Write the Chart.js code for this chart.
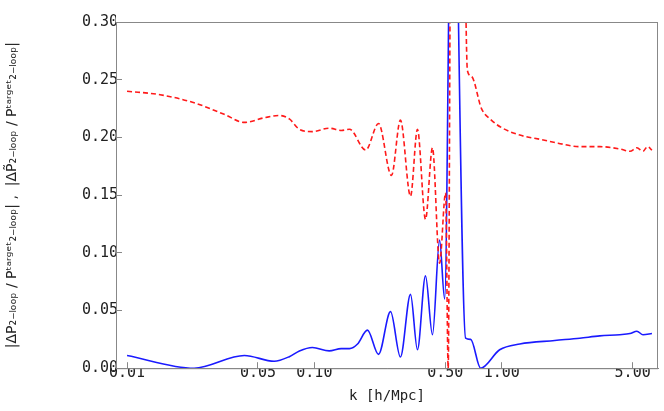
<!DOCTYPE html>
<html lang="en">
<head>
<meta charset="UTF-8">
<title>P2-loop residuals</title>
<script src="https://cdn.jsdelivr.net/npm/chart.js"></script>
<style>
  body { margin: 0; background: #fff; }
  #wrap { width: 664px; height: 411px; }
</style>
</head>
<body>
<div id="wrap"><canvas id="chartCanvas"></canvas></div>
<script>
// blue solid: |dP / P target|
const blueK = [0.01, 0.0228, 0.0423, 0.061, 0.0735, 0.0832, 0.0976, 0.120, 0.139, 0.154, 0.170, 0.192, 0.220, 0.255, 0.288, 0.326, 0.355, 0.392, 0.427, 0.466, 0.496, 0.533, 0.553, 0.575, 0.642, 0.683, 0.772, 0.975, 1.25, 1.92, 2.61, 3.34, 4.27, 4.84, 5.27, 5.68, 6.34];
const blueVal = [0.011, 0.0, 0.011, 0.006, 0.010, 0.015, 0.018, 0.015, 0.017, 0.017, 0.021, 0.033, 0.012, 0.049, 0.0097, 0.064, 0.016, 0.080, 0.029, 0.111, 0.060, 0.45, 0.60, 0.40, 0.026, 0.025, 0.0, 0.016, 0.021, 0.024, 0.026, 0.028, 0.029, 0.030, 0.032, 0.029, 0.030];
// red dashed: |dP~ / P target|
const redK = [0.01, 0.015, 0.0228, 0.0330, 0.0423, 0.0540, 0.0650, 0.0735, 0.0832, 0.0976, 0.120, 0.139, 0.154, 0.188, 0.220, 0.258, 0.288, 0.326, 0.355, 0.392, 0.427, 0.466, 0.502, 0.518, 0.535, 0.62, 0.656, 0.689, 0.780, 0.880, 1.01, 1.25, 1.64, 2.00, 2.61, 3.34, 4.27, 4.84, 5.27, 5.68, 6.00, 6.34];
const redVal = [0.240, 0.237, 0.230, 0.220, 0.213, 0.217, 0.219, 0.216, 0.207, 0.205, 0.208, 0.206, 0.207, 0.189, 0.212, 0.167, 0.215, 0.149, 0.207, 0.129, 0.191, 0.091, 0.152, 0.0, 0.40, 0.45, 0.258, 0.253, 0.225, 0.215, 0.208, 0.202, 0.198, 0.195, 0.192, 0.192, 0.190, 0.188, 0.191, 0.188, 0.192, 0.189];
const xTicks = [0.01, 0.05, 0.1, 0.5, 1, 5];

const toPoints = (ks, vs) => ks.map((k, i) => ({ x: k, y: vs[i] }));
const axisFont = { family: 'DejaVu Sans Mono', size: 15 };

// box around the plot area, like the original frame
const frame = {
    id: 'frame',
    afterDraw(chart) {
        const a = chart.chartArea, c = chart.ctx;
        c.save();
        c.strokeStyle = '#888';
        c.lineWidth = 1;
        c.strokeRect(a.left + 0.5, a.top + 0.5, a.right - a.left - 1, a.bottom - a.top);
        c.restore();
    }
};

new Chart(document.getElementById('chartCanvas'), {
    type: 'line',
    data: {
        datasets: [{
            data: toPoints(redK, redVal),
            borderColor: '#ff1a1a',
            borderWidth: 1.6,
            borderDash: [5, 3],
            pointRadius: 0,
            tension: 0.4,
            cubicInterpolationMode: 'monotone'
        }, {
            data: toPoints(blueK, blueVal),
            borderColor: '#1a1aff',
            borderWidth: 1.6,
            pointRadius: 0,
            tension: 0.4,
            cubicInterpolationMode: 'monotone'
        }]
    },
    options: {
        responsive: true,
        maintainAspectRatio: false,
        animation: false,
        layout: { padding: { top: 22, right: 6, left: 0, bottom: 2 } },
        plugins: { legend: { display: false }, tooltip: { enabled: false } },
        scales: {
            x: {
                type: 'logarithmic',
                min: 0.00873,
                max: 6.83,
                afterBuildTicks: axis => { axis.ticks = xTicks.map(v => ({ value: v })); },
                ticks: { color: '#222', font: axisFont, maxRotation: 0, padding: 2, callback: v => Number(v).toFixed(2) },
                grid: { display: true, drawOnChartArea: false, tickLength: -6, color: '#888' },
                border: { color: '#888' },
                title: { display: true, text: 'k [h/Mpc]', color: '#222', font: { family: 'DejaVu Sans Mono', size: 14 }, padding: { top: 4 } }
            },
            y: {
                min: 0,
                max: 0.3,
                afterFit: axis => { axis.width = 116; },
                ticks: { stepSize: 0.05, color: '#222', font: axisFont, padding: 4, callback: v => v.toFixed(2) },
                grid: { display: true, drawOnChartArea: false, tickLength: -6, color: '#888' },
                border: { color: '#888' },
                title: {
                    display: true,
                    text: '|ΔP₂₋ₗₒₒₚ / Pᵗᵃʳᵍᵉᵗ₂₋ₗₒₒₚ| ,  |ΔP̃₂₋ₗₒₒₚ / Pᵗᵃʳᵍᵉᵗ₂₋ₗₒₒₚ|',
                    color: '#222',
                    font: { family: 'DejaVu Sans', size: 14 },
                    padding: { bottom: 0 }
                }
            }
        }
    },
    plugins: [frame]
});
</script>
</body>
</html>
